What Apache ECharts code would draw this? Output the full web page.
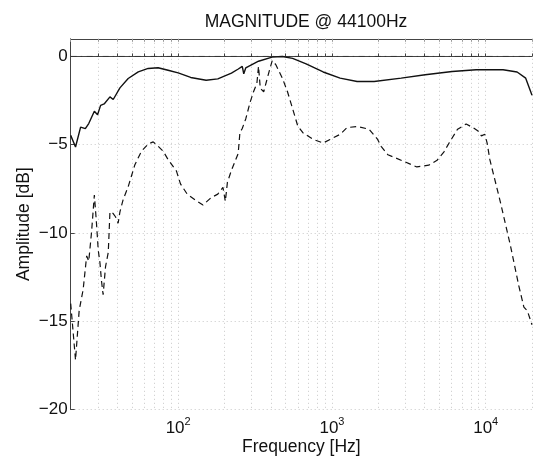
<!DOCTYPE html>
<html>
<head>
<meta charset="utf-8">
<script src="https://cdn.jsdelivr.net/npm/echarts@6/dist/echarts.min.js"></script>
<style>html,body{margin:0;padding:0;background:#fff}#c{width:533px;height:456px}</style>
</head>
<body>
<div id="c"></div>
<script>
// ---- data ----
var solidFreq = [20, 21.5, 23.2, 24.9, 26.2, 28.5, 29.9, 31.3, 33, 36, 37.8, 41.8, 47.3, 55, 63.8, 74, 86, 100, 120.6, 152, 181, 222, 246, 261, 267, 275, 333, 408, 476, 555, 679, 877, 1130, 1458, 1880, 2820, 4040, 6050, 8670, 12970, 16000, 18200, 20000];
var solidDb = [-4.47, -5.13, -4.0, -4.09, -3.8, -3.1, -3.3, -2.77, -2.69, -2.29, -2.44, -1.78, -1.25, -0.87, -0.68, -0.64, -0.78, -0.93, -1.19, -1.35, -1.27, -0.94, -0.71, -0.56, -0.98, -0.65, -0.27, -0.04, 0, -0.11, -0.42, -0.88, -1.23, -1.42, -1.42, -1.23, -1.04, -0.85, -0.75, -0.75, -0.88, -1.23, -2.2];

var dashedFreq = [20, 21.5, 22.7, 24.1, 25.4, 26.2, 27.3, 28.5, 29.4, 30.2, 31.0, 31.7, 32.5, 33.7, 35.1, 36.0, 37.8, 39.1, 40.7, 41.8, 43.9, 47.3, 52.3, 57.7, 63.8, 68.8, 74.1, 79.9, 86.1, 97.5, 103.5, 114.5, 130, 145, 163.6, 181, 195.5, 202.7, 209, 222, 245.5, 252, 261, 275, 294, 309, 325, 333, 342, 360, 375, 385, 399, 409, 431, 476, 514, 555, 599, 647, 754, 877, 972, 1132, 1253, 1459, 1744, 1982, 2089, 2312, 2985, 3566, 4259, 4829, 5354, 5781, 6565, 7460, 8260, 8915, 9380, 9870, 10210, 10650, 12410, 14460, 16420, 17710, 18640, 20000];
var dashedDb = [-14.0, -17.2, -14.4, -13.2, -11.3, -11.6, -10.0, -7.85, -9.4, -10.96, -11.7, -12.7, -13.5, -11.9, -11.1, -8.8, -8.9, -9.08, -9.45, -8.8, -8.1, -7.38, -6.13, -5.37, -4.96, -4.84, -5.09, -5.37, -5.85, -6.5, -7.22, -7.8, -8.15, -8.42, -8.0, -7.8, -7.42, -8.2, -7.13, -6.45, -5.5, -4.32, -4.08, -3.54, -2.58, -2.0, -1.52, -0.56, -1.81, -2.0, -1.42, -1.04, -0.56, -0.23, -0.46, -1.23, -2.0, -2.96, -3.93, -4.32, -4.7, -4.9, -4.7, -4.41, -4.03, -3.97, -4.12, -4.7, -5.09, -5.57, -5.97, -6.26, -6.16, -5.88, -5.4, -4.9, -4.12, -3.83, -4.03, -4.22, -4.5, -4.41, -4.9, -5.86, -8.19, -10.69, -13.0, -14.2, -14.4, -15.2];

var refFreq = [20, 20000];
var refDb = [0, 0];

var xTickValues = [20, 30, 40, 50, 60, 70, 80, 90, 100, 200, 300, 400, 500, 600, 700, 800, 900, 1000, 2000, 3000, 4000, 5000, 6000, 7000, 8000, 9000, 10000, 20000];
var xLabelValues = [100, 1000, 10000];
var yTickValues = [-20, -15, -10, -5, 0];

var titleText = 'MAGNITUDE @ 44100Hz';
var xName = 'Frequency [Hz]';
var yName = 'Amplitude [dB]';

function zip(a, b) { return a.map(function (v, i) { return [v, b[i]]; }); }

var FONT = '"Liberation Sans", Arial, Helvetica, sans-serif';
var AXIS_COLOR = '#444';
var GRID_STYLE = { color: '#c8c8c8', width: 1, type: [1, 3] };

var chart = echarts.init(document.getElementById('c'), null, { renderer: 'canvas' });
chart.setOption({
  animation: false,
  backgroundColor: '#fff',
  textStyle: { fontFamily: FONT },
  title: {
    text: titleText,
    left: 301, top: 8, textAlign: 'center',
    textStyle: { fontFamily: FONT, fontSize: 17.5, fontWeight: 'normal', color: '#111' }
  },
  grid: { left: 70.7, right: 1, top: 38.8, bottom: 46.5, containLabel: false, outerBoundsMode: 'none' },
  xAxis: [{
    type: 'log', logBase: 10, min: 20, max: 20000, position: 'bottom',
    name: xName, nameLocation: 'middle', nameGap: 29, nameMoveOverlap: false,
    nameTextStyle: { fontFamily: FONT, fontSize: 17.5, color: '#111' },
    axisLine: { show: true, lineStyle: { color: AXIS_COLOR, width: 1 } },
    axisTick: { show: true, inside: true, length: 3, customValues: xTickValues, lineStyle: { color: AXIS_COLOR } },
    splitLine: { show: true, lineStyle: GRID_STYLE },
    axisLabel: {
      customValues: xLabelValues, margin: 7,
      formatter: function (v) { return '{b|10}{s|' + Math.round(Math.log10(v)) + '}'; },
      rich: {
        b: { fontFamily: FONT, fontSize: 17, color: '#111', lineHeight: 24 },
        s: { fontFamily: FONT, fontSize: 11, color: '#111', lineHeight: 11, verticalAlign: 'top' }
      }
    }
  }, {
    type: 'log', logBase: 10, min: 20, max: 20000, position: 'top',
    axisLine: { show: true, lineStyle: { color: AXIS_COLOR, width: 1 } },
    axisTick: { show: true, inside: true, length: 3, customValues: xTickValues, lineStyle: { color: '#999' } },
    axisLabel: { show: false },
    splitLine: { show: false }
  }],
  yAxis: [{
    type: 'value', min: -20, max: 1,
    name: yName, nameLocation: 'middle', nameGap: 38, nameRotate: 90, nameMoveOverlap: false,
    nameTextStyle: { fontFamily: FONT, fontSize: 17.5, color: '#111' },
    axisLine: { show: true, lineStyle: { color: AXIS_COLOR, width: 1 } },
    axisTick: { show: true, inside: true, length: 4, customValues: yTickValues, lineStyle: { color: AXIS_COLOR } },
    splitLine: { show: true, lineStyle: GRID_STYLE },
    axisLabel: {
      customValues: yTickValues, margin: 3,
      fontFamily: FONT, fontSize: 17, color: '#111',
      formatter: function (v) { return v < 0 ? '\u2212' + (-v) : String(v); }
    }
  }],
  series: [{
    type: 'line', name: 'ref', data: zip(refFreq, refDb), symbol: 'none', silent: true,
    lineStyle: { color: '#333', width: 1, type: [6, 4, 1.5, 4.5] }
  }, {
    type: 'line', name: 'solid', data: zip(solidFreq, solidDb), symbol: 'none', silent: true,
    lineStyle: { color: '#111', width: 1.4 }
  }, {
    type: 'line', name: 'dashed', data: zip(dashedFreq, dashedDb), symbol: 'none', silent: true,
    lineStyle: { color: '#111', width: 1.2, type: [6, 4] }
  }]
});
</script>
</body>
</html>
